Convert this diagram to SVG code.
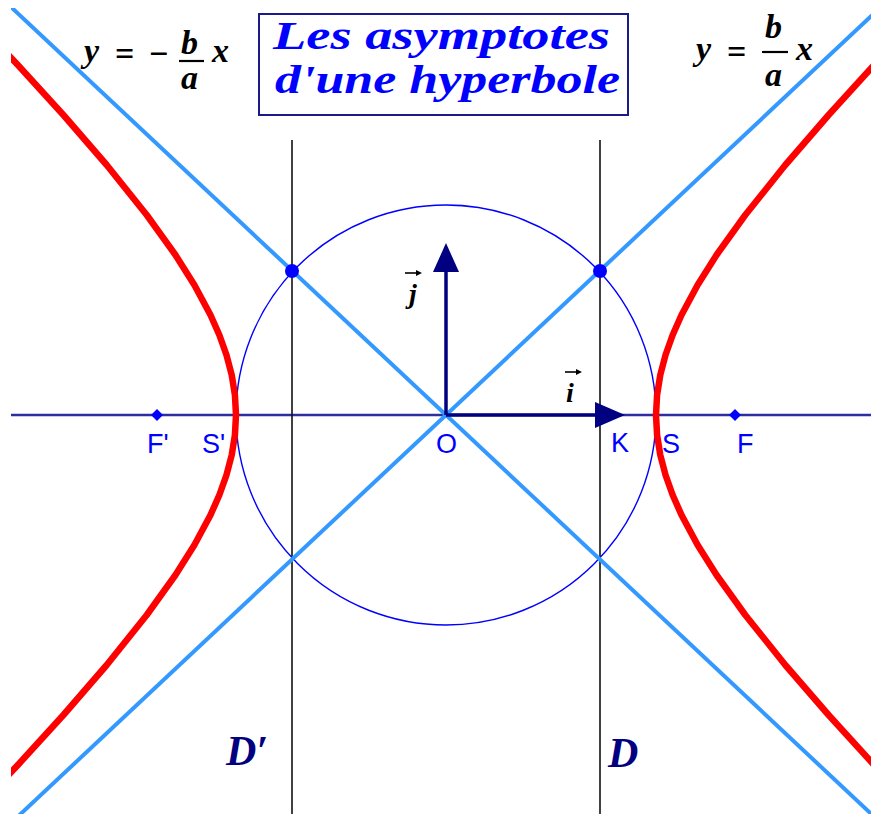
<svg xmlns="http://www.w3.org/2000/svg" width="871" height="814" viewBox="0 0 871 814">
<style>
.lbl{font-family:"Liberation Sans",Arial,sans-serif;font-size:27px;fill:#0000ff}
.math{font-family:"Liberation Serif","Times New Roman",serif;font-weight:bold;fill:#000000}
.mi{font-style:italic}
.title{font-family:"Liberation Serif","Times New Roman",serif;font-weight:bold;font-style:italic;font-size:39px;fill:#0000ff}
.dl{font-family:"Liberation Serif","Times New Roman",serif;font-weight:bold;font-style:italic;font-size:42px;fill:#000080}
.asym{stroke:#3399ff;stroke-width:4;fill:none}
.hyp{stroke:#ff0000;stroke-width:6.5;fill:none;stroke-linejoin:round}
.dir{stroke:#111111;stroke-width:1.6}
.vec{stroke:#000080;stroke-width:3.5}
</style>
<defs>
<clipPath id="plot"><rect x="11" y="8" width="860" height="806"/></clipPath>
</defs>
<rect width="871" height="814" fill="#ffffff"/>
<g id="axis">
<line x1="11" y1="415" x2="871" y2="415" stroke="#2e2e9e" stroke-width="2.5"/>
</g>
<g id="directrices">
<line class="dir" x1="292" y1="140" x2="292" y2="814"/>
<line class="dir" x1="600" y1="140" x2="600" y2="814"/>
</g>
<g id="circle">
<circle cx="446" cy="415" r="210" fill="none" stroke="#0000ff" stroke-width="1.4"/>
</g>
<g id="connectors" clip-path="url(#plot)">
<line class="asym" x1="-10" y1="842.7" x2="900" y2="-10.9"/>
<line class="asym" x1="-10" y1="-12.7" x2="900" y2="840.9"/>
<path class="hyp" d="M950.19,-15 L921.31,15 L874.14,65 L828.58,115 L785.29,165 L745.26,215 L716.54,255 L697.61,285 L681.51,315 L672.65,335 L665.52,355 L660.28,375 L657.08,395 L656,415 L657.08,435 L660.28,455 L665.52,475 L672.65,495 L681.51,515 L697.61,545 L716.54,575 L745.26,615 L785.29,665 L828.58,715 L874.14,765 L921.31,815 L950.19,845"/>
<path class="hyp" d="M-58.19,-15 L-29.31,15 L17.86,65 L63.42,115 L106.71,165 L146.74,215 L175.46,255 L194.39,285 L210.49,315 L219.35,335 L226.48,355 L231.72,375 L234.92,395 L236,415 L234.92,435 L231.72,455 L226.48,475 L219.35,495 L210.49,515 L194.39,545 L175.46,575 L146.74,615 L106.71,665 L63.42,715 L17.86,765 L-29.31,815 L-58.19,845"/>
</g>
<g id="vectors">
<line class="vec" x1="446" y1="415" x2="446" y2="270"/>
<polygon points="446,243 433,272 459,272" fill="#000080"/>
<line class="vec" x1="446" y1="415" x2="597" y2="415"/>
<polygon points="625,415 595,402 595,428" fill="#000080"/>
</g>
<g id="points">
<circle cx="292" cy="271" r="7" fill="#0000ff"/>
<circle cx="600" cy="271" r="7" fill="#0000ff"/>
<polygon points="157,409 163,415 157,421 151,415" fill="#0000ff"/>
<polygon points="735,409 741,415 735,421 729,415" fill="#0000ff"/>
</g>
<g id="labels">
<text class="lbl" x="147" y="453">F'</text>
<text class="lbl" x="202" y="453">S'</text>
<text class="lbl" x="436" y="453">O</text>
<text class="lbl" x="611" y="452">K</text>
<text class="lbl" x="662" y="453">S</text>
<text class="lbl" x="737" y="453">F</text>
</g>
<g id="vec-labels">
<text class="math mi" x="566" y="402" font-size="28">i</text>
<line x1="565" y1="372" x2="580" y2="372" stroke="#000" stroke-width="1.6"/>
<polygon points="582,372 576,369 576,375" fill="#000"/>
<text class="math mi" x="409" y="303" font-size="28">j</text>
<line x1="405" y1="273" x2="420" y2="273" stroke="#000" stroke-width="1.6"/>
<polygon points="422,273 416,270 416,276" fill="#000"/>
</g>
<g id="eq-left">
<text class="math mi" x="84" y="62" font-size="34">y</text>
<text class="math" x="115" y="65" font-size="34">=</text>
<text class="math" x="149" y="65" font-size="34">−</text>
<text class="math mi" x="181" y="54" font-size="34">b</text>
<line x1="179" y1="61" x2="204" y2="61" stroke="#000" stroke-width="2.2"/>
<text class="math mi" x="181" y="89" font-size="34">a</text>
<text class="math mi" x="212" y="62" font-size="34">x</text>
</g>
<g id="eq-right">
<text class="math mi" x="696" y="60" font-size="34">y</text>
<text class="math" x="727" y="63" font-size="34">=</text>
<text class="math mi" x="765" y="38" font-size="34">b</text>
<line x1="762" y1="52" x2="788" y2="52" stroke="#000" stroke-width="2.2"/>
<text class="math mi" x="765" y="86" font-size="34">a</text>
<text class="math mi" x="796" y="60" font-size="34">x</text>
</g>
<g id="title">
<rect x="259" y="14" width="369" height="101" fill="#ffffff" stroke="#1a1a8c" stroke-width="2"/>
<text class="title" x="273" y="49" textLength="337" lengthAdjust="spacingAndGlyphs">Les asymptotes</text>
<text class="title" x="275" y="93" textLength="345" lengthAdjust="spacingAndGlyphs">d'une hyperbole</text>
</g>
<g id="directrix-labels">
<text class="dl" x="226" y="765">D′</text>
<text class="dl" x="608" y="767">D</text>
</g>
</svg>
